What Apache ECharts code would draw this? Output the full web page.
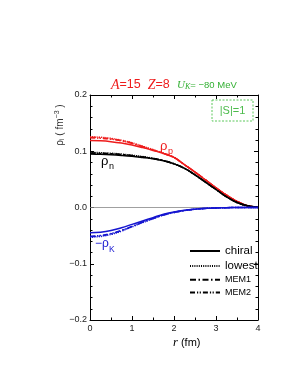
<!DOCTYPE html>
<html><head><meta charset="utf-8">
<script src="https://cdn.jsdelivr.net/npm/echarts@6/dist/echarts.min.js"></script>
<style>html,body{margin:0;padding:0;background:#fff}#c{width:303px;height:392px}</style>
</head><body><div id="c"></div>
<script>
const r = [0,0.25,0.5,0.75,1.0,1.25,1.5,1.75,2.0,2.25,2.5,2.75,3.0,3.25,3.5,3.75,4.0];
const xTicks = [0,1,2,3,4];
const yTicks = [-0.2,-0.1,0.0,0.1,0.2];
// proton density
const pChiral = [0.119,0.1185,0.117,0.1145,0.111,0.1065,0.1015,0.096,0.089,0.076,0.063,0.049,0.035,0.022,0.011,0.003,0.0005];
const pLowest = [0.126,0.125,0.123,0.1195,0.115,0.109,0.103,0.0965,0.089,0.076,0.063,0.049,0.035,0.022,0.011,0.003,0.0005];
const pMem1   = [0.125,0.124,0.122,0.119,0.1145,0.1085,0.1025,0.0962,0.089,0.076,0.063,0.049,0.035,0.022,0.011,0.003,0.0005];
const pMem2   = [0.124,0.123,0.1215,0.1185,0.114,0.108,0.102,0.096,0.089,0.076,0.063,0.049,0.035,0.022,0.011,0.003,0.0005];
// neutron density
const nChiral = [0.095,0.0945,0.0937,0.0925,0.091,0.089,0.0868,0.083,0.0775,0.0695,0.058,0.045,0.032,0.019,0.009,0.003,0.0005];
const nLowest = [0.098,0.0975,0.0965,0.095,0.093,0.0905,0.0875,0.0835,0.0778,0.0697,0.058,0.045,0.032,0.019,0.009,0.003,0.0005];
const nMem1   = [0.097,0.0965,0.0956,0.0942,0.0923,0.09,0.0872,0.0833,0.0777,0.0696,0.058,0.045,0.032,0.019,0.009,0.003,0.0005];
const nMem2   = [0.0965,0.096,0.0952,0.0938,0.092,0.0897,0.087,0.0832,0.0776,0.0696,0.058,0.045,0.032,0.019,0.009,0.003,0.0005];
// minus kaon density
const kChiral = [-0.045,-0.044,-0.041,-0.036,-0.030,-0.024,-0.018,-0.012,-0.008,-0.005,-0.003,-0.0015,-0.0007,-0.0003,-0.0001,0,0];
const kLowest = [-0.053,-0.0515,-0.048,-0.042,-0.0345,-0.027,-0.020,-0.0135,-0.009,-0.0055,-0.0032,-0.0016,-0.0008,-0.0003,-0.0001,0,0];
const kMem1   = [-0.052,-0.0505,-0.047,-0.041,-0.034,-0.0265,-0.0197,-0.0133,-0.0088,-0.0054,-0.0032,-0.0016,-0.0008,-0.0003,-0.0001,0,0];
const kMem2   = [-0.051,-0.0497,-0.0463,-0.0405,-0.0335,-0.026,-0.0194,-0.0131,-0.0087,-0.0054,-0.0031,-0.0016,-0.0008,-0.0003,-0.0001,0,0];
const legendNames = ['chiral','lowest','MEM1','MEM2'];

const RED='#ee1c1c', BLK='#000000', BLU='#1515d0', GRN='#33b033';
const styles = {chiral:'solid', lowest:[1,1.2], MEM1:[6,2.5,1.5,2.5], MEM2:[5,2,1.2,1.5,1.2,2]};
function zip(a){return r.map((x,i)=>[x,a[i]]);}
function ser(tag,name,data,color,extra){
  return Object.assign({type:'line',name:tag+' '+name,data:zip(data),smooth:0.4,symbol:'none',silent:true,
    lineStyle:{color:color,width:1.5,type:styles[name]},itemStyle:{color:color},z:3},extra||{});
}
const series = [
  ser('p','chiral',pChiral,RED), ser('p','lowest',pLowest,RED), ser('p','MEM1',pMem1,RED), ser('p','MEM2',pMem2,RED),
  ser('n','chiral',nChiral,BLK), ser('n','lowest',nLowest,BLK), ser('n','MEM1',nMem1,BLK), ser('n','MEM2',nMem2,BLK),
  ser('K','chiral',kChiral,BLU,{markLine:{silent:true,symbol:'none',label:{show:false},lineStyle:{color:'#888',width:0.8,type:'solid'},data:[{yAxis:0}],z:1}}),
  ser('K','lowest',kLowest,BLU), ser('K','MEM1',kMem1,BLU), ser('K','MEM2',kMem2,BLU)
];
// legend-only black series
legendNames.forEach(n=>series.push({type:'line',name:n,data:[],symbol:'none',lineStyle:{color:'#000',width:1.4,type:styles[n]},itemStyle:{color:'#000'}}));

const chart = echarts.init(document.getElementById('c'),null,{renderer:'canvas'});
const axLine={show:true,onZero:false,lineStyle:{color:'#000',width:1}};
const tickIn={show:true,inside:true,length:4,lineStyle:{color:'#000'}};
const minorIn={show:true,splitNumber:2,length:2.5,lineStyle:{color:'#000'}};
chart.setOption({
  animation:false,
  grid:{left:90,top:95,width:168,height:225,containLabel:false},
  legend:{show:true,orient:'vertical',left:184,top:240,itemWidth:30,itemHeight:12,itemGap:3,
    data:legendNames,selectedMode:false,itemStyle:{opacity:0},
    formatter:n=>n.indexOf('MEM')===0?'{s|'+n+'}':'{b|'+n+'}',
    textStyle:{color:'#000',rich:{b:{fontSize:11.5,fontFamily:'Liberation Sans'},s:{fontSize:9,fontFamily:'Liberation Sans'}}}},
  xAxis:[
    {type:'value',min:xTicks[0],max:xTicks[xTicks.length-1],interval:1,position:'bottom',
     axisLine:axLine,axisTick:tickIn,minorTick:minorIn,splitLine:{show:false},
     axisLabel:{color:'#222',fontSize:9,fontFamily:'Liberation Sans',margin:4}},
    {type:'value',min:0,max:4,interval:1,position:'top',
     axisLine:axLine,axisTick:tickIn,minorTick:minorIn,splitLine:{show:false},axisLabel:{show:false}}
  ],
  yAxis:[
    {type:'value',min:yTicks[0],max:yTicks[yTicks.length-1],interval:0.1,position:'left',
     axisLine:axLine,axisTick:tickIn,minorTick:Object.assign({},minorIn,{splitNumber:5}),splitLine:{show:false},
     axisLabel:{color:'#222',fontSize:9,fontFamily:'Liberation Sans',margin:3,
       formatter:v=>{const s=Math.abs(v).toFixed(1);return v<-1e-9?'\u2212'+s:s;}}},
    {type:'value',min:-0.2,max:0.2,interval:0.1,position:'right',
     axisLine:axLine,axisTick:tickIn,minorTick:Object.assign({},minorIn,{splitNumber:5}),splitLine:{show:false},axisLabel:{show:false}}
  ],
  series:series,
  graphic:[
    {type:'text',left:111,top:78,style:{text:'{i|A}{n|=15  }{i|Z}{n|=8}',fill:RED,
      rich:{i:{fontFamily:'Liberation Serif',fontStyle:'italic',fontSize:14,fill:RED},n:{fontFamily:'Liberation Sans',fontSize:12.5,fill:RED}}}},
    {type:'text',left:177,top:80,style:{text:'{i|U}{k|K}{n|= \u221280 MeV}',fill:GRN,
      rich:{i:{fontFamily:'Liberation Serif',fontStyle:'italic',fontSize:11,fill:GRN},k:{fontFamily:'Liberation Serif',fontStyle:'italic',fontSize:8,fill:GRN,padding:[3,0,0,0]},n:{fontFamily:'Liberation Sans',fontSize:9.5,fill:GRN}}}},
    {type:'rect',shape:{x:212,y:100,width:41,height:21},style:{fill:'none',stroke:'#5cc85c',lineWidth:1,lineDash:[2,1.5]}},
    {type:'text',x:232.5,y:110.5,style:{text:'|S|=1',fill:'#4cbb4c',fontSize:11,fontFamily:'Liberation Sans',align:'center',verticalAlign:'middle'}},
    {type:'text',left:160,top:140,style:{text:'\u03c1',fill:RED,fontSize:13,fontFamily:'Liberation Sans'}},
    {type:'text',left:168,top:147,style:{text:'p',fill:RED,fontSize:9,fontFamily:'Liberation Sans'}},
    {type:'text',left:101,top:155,style:{text:'\u03c1',fill:'#000',fontSize:13,fontFamily:'Liberation Sans'}},
    {type:'text',left:109,top:162,style:{text:'n',fill:'#000',fontSize:9,fontFamily:'Liberation Sans'}},
    {type:'text',left:95,top:238,style:{text:'\u2212\u03c1',fill:BLU,fontSize:12,fontFamily:'Liberation Sans'}},
    {type:'text',left:109,top:245,style:{text:'K',fill:BLU,fontSize:8.5,fontFamily:'Liberation Sans'}},
    {type:'text',x:60,y:125,rotation:Math.PI/2,style:{text:'\u03c1{s|i} ( fm{u|\u22123} )',fill:'#333',fontSize:10,fontFamily:'Liberation Sans',align:'center',verticalAlign:'middle',
      rich:{s:{fontSize:7,fill:'#333',padding:[5,0,0,0]},u:{fontSize:7,fill:'#333',padding:[0,0,5,0]}}}},
    {type:'text',left:173,top:336,style:{text:'{i|r} (fm)',fill:'#000',fontSize:11,fontFamily:'Liberation Sans',
      rich:{i:{fontFamily:'Liberation Serif',fontStyle:'italic',fontSize:12.5,fill:'#000'}}}}
  ]
});
</script></body></html>
